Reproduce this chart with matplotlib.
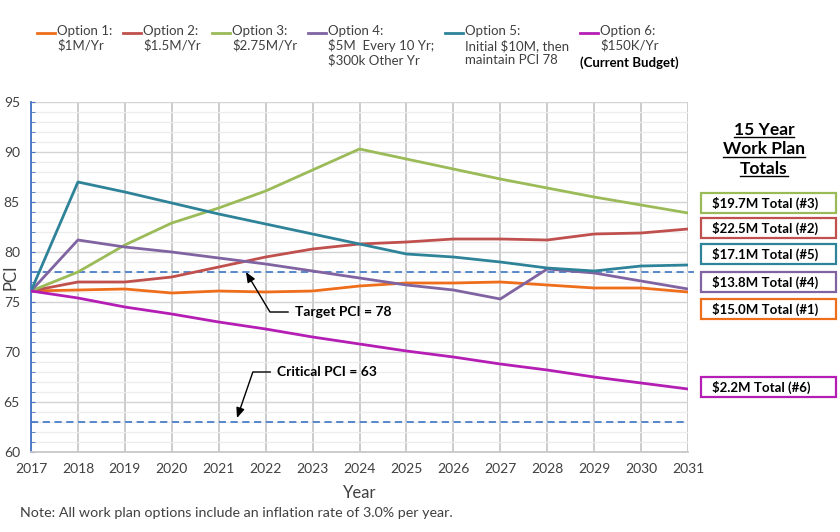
import numpy as np
import matplotlib
matplotlib.use('Agg')
from matplotlib import pyplot as plt
from matplotlib.lines import Line2D
from matplotlib.patches import Rectangle
from matplotlib.ticker import MultipleLocator
import matplotlib.transforms as mtransforms

plt.rcParams['font.family'] = ['Lato', 'DejaVu Sans']

# PCI forecast per work plan option
years = list(range(2017, 2032))
opt1 = [76.1, 76.2, 76.3, 75.9, 76.1, 76.0, 76.1, 76.6, 76.9, 76.9, 77.0, 76.7, 76.4, 76.4, 76.0]
opt2 = [76.1, 77.0, 77.0, 77.5, 78.5, 79.5, 80.3, 80.8, 81.0, 81.3, 81.3, 81.2, 81.8, 81.9, 82.3]
opt3 = [76.1, 78.0, 80.7, 82.9, 84.4, 86.1, 88.2, 90.3, 89.3, 88.3, 87.3, 86.4, 85.5, 84.7, 83.9]
opt4 = [76.1, 81.2, 80.5, 80.0, 79.4, 78.8, 78.1, 77.4, 76.7, 76.2, 75.3, 78.3, 77.9, 77.1, 76.3]
opt5 = [76.1, 87.0, 86.0, 84.9, 83.8, 82.8, 81.8, 80.8, 79.8, 79.5, 79.0, 78.4, 78.1, 78.6, 78.7]
opt6 = [76.1, 75.4, 74.5, 73.8, 73.0, 72.3, 71.5, 70.8, 70.1, 69.5, 68.8, 68.2, 67.5, 66.9, 66.3]
series = [opt1, opt2, opt3, opt4, opt5, opt6]

colors = ['#EE6E1C', '#C0504D', '#9BBB59', '#8064A2', '#2E8399', '#B41EB4']
legend_labels = ['Option 1:\n\\$1M/Yr', 'Option 2:\n\\$1.5M/Yr', 'Option 3:\n\\$2.75M/Yr',
                 'Option 4:\n\\$5M  Every 10 Yr;\n\\$300k Other Yr',
                 'Option 5:\nInitial \\$10M, then\nmaintain PCI 78', 'Option 6:\n\\$150K/Yr']

target_pci = 78
critical_pci = 63

# totals boxes (label, option index, vertical position in PCI units)
totals = ['\\$19.7M Total (#3)', '\\$22.5M Total (#2)', '\\$17.1M Total (#5)',
          '\\$13.8M Total (#4)', '\\$15.0M Total (#1)', '\\$2.2M Total (#6)']
totals_opt = [2, 1, 4, 3, 0, 5]
totals_y = [84.9, 82.4, 79.8, 77.0, 74.3, 66.5]
totals_title = ['15 Year', 'Work Plan', 'Totals']

W, H = 840, 532
fig = plt.figure(figsize=(W / 100, H / 100), dpi=100)
ax = fig.add_axes([31 / W, 80 / H, 657 / W, 350 / H])

for vals, col in zip(series, colors):
    ax.plot(years, vals, color=col, lw=2.0, zorder=3)

dash_col = '#4A7EC8'
ax.axhline(target_pci, xmin=0, xmax=1.009, color=dash_col, lw=1.3, ls=(0, (4, 2.5)), clip_on=False, zorder=2)
ax.axhline(critical_pci, color=dash_col, lw=1.3, ls=(0, (4, 2.5)), zorder=2)

ax.set_xlim(2017, 2031)
ax.set_ylim(60, 95)
ax.set_xticks(years)
ax.yaxis.set_major_locator(MultipleLocator(5))
ax.yaxis.set_minor_locator(MultipleLocator(1))
ax.grid(axis='x', color='#C8C8C8', lw=1.3)
ax.grid(axis='y', which='major', color='#D4D4D4', lw=1.0)
ax.grid(axis='y', which='minor', color='#EDEDED', lw=0.9)
ax.set_axisbelow(True)
for s in ['top', 'right']:
    ax.spines[s].set_visible(False)
ax.spines['left'].set_color('#4472C4')
ax.spines['left'].set_linewidth(1.3)
ax.spines['bottom'].set_color('#C8C8C8')
ax.spines['bottom'].set_linewidth(1.3)
ax.tick_params(axis='y', which='both', direction='in', color='#4472C4', length=3, labelsize=10,
               labelcolor='#404040', pad=8)
ax.tick_params(axis='x', length=0, labelsize=10, labelcolor='#404040', pad=8)
ax.set_xlabel('Year', fontsize=12, color='#404040', labelpad=7)
ax.set_ylabel('PCI', fontsize=12, color='#404040')
ax.yaxis.set_label_coords(-0.019, 0.5)

# annotations
ax.annotate('Target PCI = 78', xy=(2021.58, target_pci), xytext=(2022.63, 74.0),
            ha='left', va='center', fontsize=10, fontweight='bold',
            arrowprops=dict(arrowstyle='-|>,head_length=0.6,head_width=0.25', color='black', lw=1.0,
                            connectionstyle='angle,angleA=0,angleB=121,rad=0', shrinkA=3, shrinkB=0))
ax.annotate('Critical PCI = 63', xy=(2021.39, critical_pci + 0.4), xytext=(2022.25, 68.0),
            ha='left', va='center', fontsize=10, fontweight='bold',
            arrowprops=dict(arrowstyle='-|>,head_length=0.6,head_width=0.25', color='black', lw=1.0,
                            connectionstyle='angle,angleA=0,angleB=71,rad=0', shrinkA=3, shrinkB=0))

# totals boxes at the right
trans = mtransforms.blended_transform_factory(ax.transAxes, ax.transData)
for lbl, oi, yv in zip(totals, totals_opt, totals_y):
    ax.add_patch(Rectangle((1.0198, yv - 1.03), 0.206, 2.06, transform=trans, fill=False,
                           edgecolor=colors[oi], lw=1.6, clip_on=False))
    ax.text(1.0365, yv, lbl, transform=trans, ha='left', va='center', fontsize=9.5,
            fontweight='bold', color='black')

renderer = fig.canvas.get_renderer()
for i, line in enumerate(totals_title):
    yb = 135 + 19.5 * i
    t = fig.text(764 / W, 1 - yb / H, line, ha='center', va='baseline', fontsize=12.5,
                 fontweight='bold', color='black')
    bb = t.get_window_extent(renderer)
    fig.add_artist(Line2D([bb.x0 / W, bb.x1 / W], [1 - (yb + 2) / H] * 2, color='black', lw=1.0))

# legend across the top
x = 37
y_line = 33
for lbl, col in zip(legend_labels, colors):
    fig.add_artist(Line2D([x / W, (x + 18) / W], [1 - y_line / H] * 2, color=col, lw=2.0))
    t = fig.text((x + 20) / W, 1 - (y_line - 8) / H, lbl, ha='left', va='top', fontsize=9.5,
                 color='#404040', linespacing=1.2)
    bb = t.get_window_extent(renderer)
    last = bb
    x += 20 + bb.width + 11
fig.text((last.x0 + last.x1) / 2 / W, 1 - 67 / H, '(Current Budget)', ha='center', va='baseline',
         fontsize=9.5, fontweight='bold', color='black')

fig.text(20 / W, 1 - 517 / H, 'Note: All work plan options include an inflation rate of 3.0% per year.',
         fontsize=10.3, color='#404040')

fig.savefig('out.png', dpi=100)
